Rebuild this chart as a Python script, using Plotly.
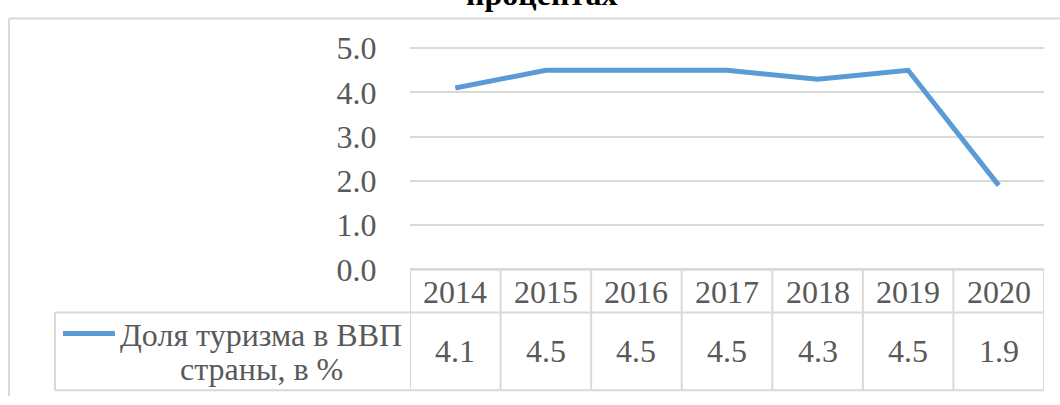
import plotly.graph_objects as go

years = ["2014", "2015", "2016", "2017", "2018", "2019", "2020"]
share = [4.1, 4.5, 4.5, 4.5, 4.3, 4.5, 1.9]
series_lines = ["Доля туризма в ВВП", "страны, в %"]
title_tail = "процентах"
y_ticks = [0, 1, 2, 3, 4, 5]

W, H = 1060, 405
LINE = "#5B9BD5"
GRID = "#D9D9D9"
TXT = "#595959"
FONT = "Liberation Serif"


def py(p):
    return 1 - p / H


def px(p):
    return p / W


# plot area pixel geometry
x0p, x1p = 410, 1044
y0_pix, per_unit = 272.5, 46.3
ymin, ymax = -0.2, 5.2
dom_bot = py(y0_pix - (ymin * per_unit))
dom_top = py(y0_pix - (ymax * per_unit))

fig = go.Figure()
fig.add_trace(go.Scatter(
    x=list(range(len(years))), y=share, mode="lines",
    line=dict(color=LINE, width=5), showlegend=False, hoverinfo="skip",
))

shapes = []
# outer chart border
shapes.append(dict(type="line", xref="paper", yref="paper", x0=px(9), x1=1.0, y0=py(10), y1=py(10),
                   line=dict(color=GRID, width=2)))
shapes.append(dict(type="line", xref="paper", yref="paper", x0=px(9), x1=px(9), y0=py(10), y1=0,
                   line=dict(color=GRID, width=2)))
# table verticals at category boundaries
for i in range(len(years) + 1):
    shapes.append(dict(type="line", xref="x", yref="paper", x0=i - 0.5, x1=i - 0.5,
                       y0=py(273), y1=py(399), line=dict(color=GRID, width=2)))
# table horizontals
shapes.append(dict(type="line", xref="paper", yref="paper", x0=px(x0p), x1=px(x1p), y0=py(273), y1=py(273),
                   line=dict(color=GRID, width=2)))
for yy in (317.5, 399):
    shapes.append(dict(type="line", xref="paper", yref="paper", x0=px(55), x1=px(x1p), y0=py(yy), y1=py(yy),
                       line=dict(color=GRID, width=2)))
shapes.append(dict(type="line", xref="paper", yref="paper", x0=px(55), x1=px(55), y0=py(317.5), y1=py(399),
                   line=dict(color=GRID, width=2)))
# legend key
shapes.append(dict(type="line", xref="paper", yref="paper", x0=px(63), x1=px(115), y0=py(339.5), y1=py(339.5),
                   line=dict(color=LINE, width=5)))

annotations = []
for i, yr in enumerate(years):
    annotations.append(dict(x=i, xref="x", y=py(296), yref="paper", text=yr, showarrow=False,
                            xanchor="center", yanchor="middle",
                            font=dict(family=FONT, size=32, color=TXT)))
    annotations.append(dict(x=i, xref="x", y=py(358), yref="paper", text=f"{share[i]:.1f}", showarrow=False,
                            xanchor="center", yanchor="middle",
                            font=dict(family=FONT, size=32, color=TXT)))
for k, ln in enumerate(series_lines):
    annotations.append(dict(x=px(261), xref="paper", y=py(341 + 36 * k), yref="paper", text=ln,
                            showarrow=False, xanchor="center", yanchor="middle",
                            font=dict(family=FONT, size=32, color=TXT)))
annotations.append(dict(x=px(541), xref="paper", y=py(5), yref="paper", text=f"<b>{title_tail}</b>",
                        showarrow=False, xanchor="center", yanchor="bottom",
                        font=dict(family=FONT, size=32, color="#000000")))

fig.update_layout(
    width=W, height=H,
    margin=dict(l=0, r=0, t=0, b=0),
    paper_bgcolor="white", plot_bgcolor="white",
    shapes=shapes, annotations=annotations,
    xaxis=dict(domain=[px(x0p), px(x1p)], range=[-0.5, len(years) - 0.5],
               showgrid=False, zeroline=False, showticklabels=False, showline=False, fixedrange=True),
    yaxis=dict(domain=[dom_bot, dom_top], range=[ymin, ymax],
               tickvals=y_ticks, ticktext=[f"{v:.1f}" for v in y_ticks],
               showgrid=True, gridcolor=GRID, gridwidth=2, zeroline=False, showline=False,
               ticks="outside", ticklen=26, tickcolor="rgba(0,0,0,0)",
               tickfont=dict(family=FONT, size=32, color=TXT), fixedrange=True),
    showlegend=False,
)

fig.write_html("out.html", config={"displayModeBar": False},
               post_script="document.body.style.margin='0';document.body.style.padding='0';")
